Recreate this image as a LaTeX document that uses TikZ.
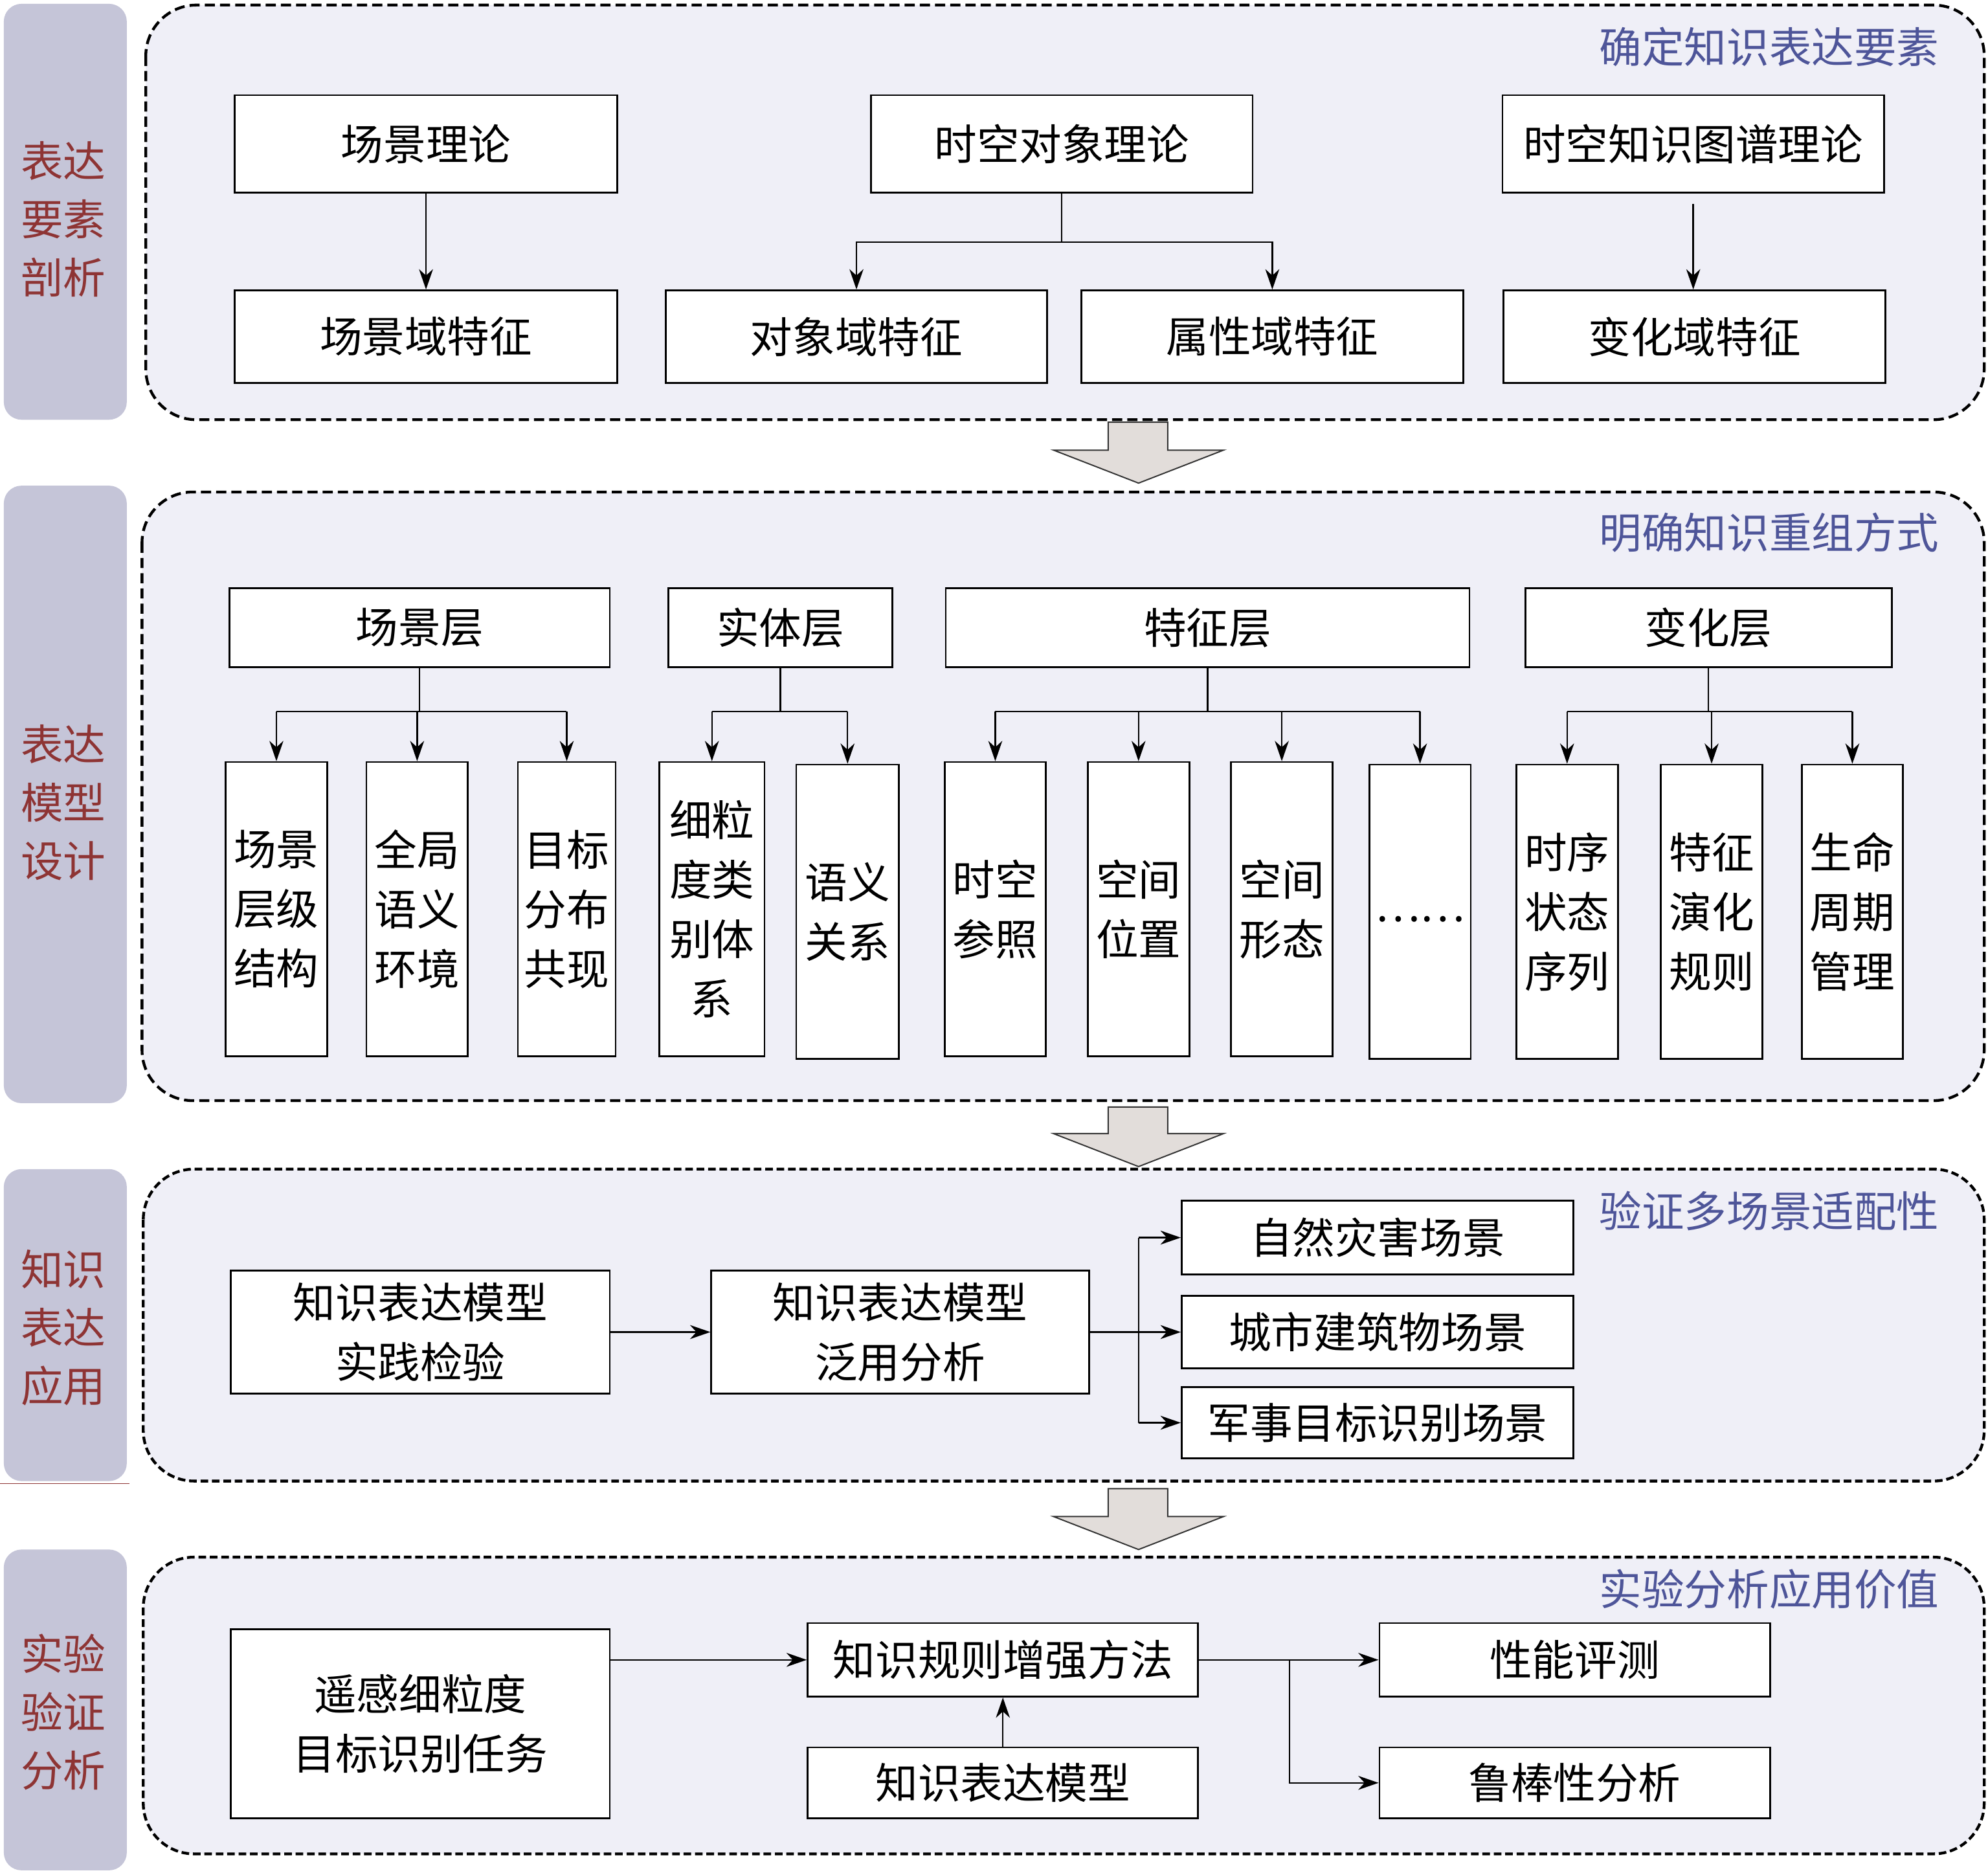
\documentclass[tikz,border=0pt]{standalone}
\usepackage{fontspec}
\setmainfont{Noto Sans CJK SC}
\usetikzlibrary{arrows.meta}
\definecolor{panelfill}{HTML}{EFEFF7}
\definecolor{barfill}{HTML}{C5C5D8}
\definecolor{sidetext}{HTML}{8E3434}
\definecolor{titleblue}{HTML}{4E5599}
\definecolor{bigarrow}{HTML}{E2DDDA}
\begin{document}
\begin{tikzpicture}[x=1pt,y=-1pt,
  box/.style={draw=black, line width=1.4pt, fill=white, inner sep=0pt,
    font=\fontsize{33.5}{47}\selectfont, align=center},
  arr/.style={-{Stealth[length=16pt,width=11pt,inset=5pt]}, line width=1.2pt},
  ln/.style={line width=1.2pt},
  panel/.style={draw=black, line width=2.2pt, dash pattern=on 8pt off 4pt,
    fill=panelfill, rounded corners=40pt},
  bar/.style={fill=barfill, rounded corners=14pt},
  sidelabel/.style={text=sidetext, font=\fontsize{33.5}{46}\selectfont, align=center},
  titletext/.style={text=titleblue, font=\fontsize{33.5}{40}\selectfont, anchor=east},
  blockarrow/.style={draw=black!80, line width=1pt, fill=bigarrow}
]
\useasboundingbox (0,0) rectangle (1568,1477);
\fill[white] (0,0) rectangle (1568,1477);

% side bars
\fill[bar] (3,3) rectangle (100,331);
\fill[bar] (3,383) rectangle (100,870);
\fill[bar] (3,922) rectangle (100,1168);
\fill[bar] (3,1222) rectangle (100,1475);
\node[sidelabel] (s1) at (50,173) {表达\\要素\\剖析};
\node[sidelabel] (s2) at (50,633) {表达\\模型\\设计};
\node[sidelabel] (s3) at (50,1047) {知识\\表达\\应用};
\node[sidelabel] (s4) at (50,1350) {实验\\验证\\分析};
\draw[sidetext, line width=0.8pt] (0,1170) -- (102,1170);

% panels
\draw[panel] (115,4) rectangle (1565,331);
\draw[panel] (112,388) rectangle (1565,868);
\draw[panel, dash pattern=on 6pt off 3pt] (113,922) rectangle (1565,1168);
\draw[panel, dash pattern=on 6pt off 3pt] (113,1228) rectangle (1565,1462);

% titles
\node[titletext] (t1) at (1533,37) {确定知识表达要素};
\node[titletext] (t2) at (1533,420) {明确知识重组方式};
\node[titletext] (t3) at (1533,955) {验证多场景适配性};
\node[titletext] (t4) at (1533,1253) {实验分析应用价值};

% block arrows
\draw[blockarrow] (874,333) -- (921,333) -- (921,355) -- (965,355) -- (898,381) -- (831,355) -- (874,355) -- cycle;
\draw[blockarrow] (874,873) -- (921,873) -- (921,894) -- (965,894) -- (898,920) -- (831,894) -- (874,894) -- cycle;
\draw[blockarrow] (874,1174) -- (921,1174) -- (921,1196) -- (965,1196) -- (898,1222) -- (831,1196) -- (874,1196) -- cycle;

% ---------- panel 1
\node[box, minimum width=302pt, minimum height=77pt] (a1) at (336,113.5) {场景理论};
\node[box, minimum width=301pt, minimum height=77pt] (a2) at (837.5,113.5) {时空对象理论};
\node[box, minimum width=301pt, minimum height=77pt] (a3) at (1335.5,113.5) {时空知识图谱理论};
\node[box, minimum width=302pt, minimum height=73pt] (b1) at (336,265.5) {场景域特征};
\node[box, minimum width=301pt, minimum height=73pt] (b2) at (675.5,265.5) {对象域特征};
\node[box, minimum width=301pt, minimum height=73pt] (b3) at (1003.5,265.5) {属性域特征};
\node[box, minimum width=301pt, minimum height=73pt] (b4) at (1336.5,265.5) {变化域特征};
\draw[arr] (a1) -- (b1);
\coordinate (j1) at (837.5,191);
\draw[ln] (a2.south) -- (j1);
\draw[arr] (j1) -| (b2.north);
\draw[arr] (j1) -| (b3.north);
\draw[arr] ([yshift=-8pt]a3.south) -- (a3.south |- b4.north);

% ---------- panel 2
\node[box, minimum width=300pt, minimum height=62pt] (c1) at (331,495) {场景层};
\node[box, minimum width=177pt, minimum height=62pt] (c2) at (615.5,495) {实体层};
\node[box, minimum width=413pt, minimum height=62pt] (c3) at (952.5,495) {特征层};
\node[box, minimum width=289pt, minimum height=62pt] (c4) at (1347.5,495) {变化层};

\node[box, minimum width=80pt, minimum height=232pt] (d1) at (218,717) {场景\\层级\\结构};
\node[box, minimum width=80pt, minimum height=232pt] (d2) at (329,717) {全局\\语义\\环境};
\node[box, minimum width=77pt, minimum height=232pt] (d3) at (447,717) {目标\\分布\\共现};
\node[box, minimum width=83pt, minimum height=232pt] (d4) at (561.5,717) {细粒\\度类\\别体\\系};
\node[box, minimum width=81pt, minimum height=232pt] (d5) at (668.5,719) {语义\\关系};
\node[box, minimum width=80pt, minimum height=232pt] (d6) at (785,717) {时空\\参照};
\node[box, minimum width=80pt, minimum height=232pt] (d7) at (898,717) {空间\\位置};
\node[box, minimum width=80pt, minimum height=232pt] (d8) at (1011,717) {空间\\形态};
\node[box, minimum width=80pt, minimum height=232pt, text depth=0pt] (d9) at (1120,719) {\raisebox{-8pt}{……}};
\node[box, minimum width=80pt, minimum height=232pt] (d10) at (1236,719) {时序\\状态\\序列};
\node[box, minimum width=80pt, minimum height=232pt] (d11) at (1350,719) {特征\\演化\\规则};
\node[box, minimum width=80pt, minimum height=232pt] (d12) at (1461,719) {生命\\周期\\管理};

\coordinate (k1) at (331,561);
\draw[ln] (c1.south) -- (k1);
\draw[ln] (d1.north |- k1) -- (d3.north |- k1);
\foreach \n in {d1,d2,d3} \draw[arr] (\n.north |- k1) -- (\n.north);
\coordinate (k2) at (615.5,561);
\draw[ln] (c2.south) -- (k2);
\draw[ln] (d4.north |- k2) -- (d5.north |- k2);
\foreach \n in {d4,d5} \draw[arr] (\n.north |- k2) -- (\n.north);
\coordinate (k3) at (952.5,561);
\draw[ln] (c3.south) -- (k3);
\draw[ln] (d6.north |- k3) -- (d9.north |- k3);
\foreach \n in {d6,d7,d8,d9} \draw[arr] (\n.north |- k3) -- (\n.north);
\coordinate (k4) at (1347.5,561);
\draw[ln] (c4.south) -- (k4);
\draw[ln] (d10.north |- k4) -- (d12.north |- k4);
\foreach \n in {d10,d11,d12} \draw[arr] (\n.north |- k4) -- (\n.north);

% ---------- panel 3
\node[box, minimum width=299pt, minimum height=97pt] (e1) at (331.5,1050.5) {知识表达模型\\实践检验};
\node[box, minimum width=298pt, minimum height=97pt] (e2) at (710,1050.5) {知识表达模型\\泛用分析};
\node[box, minimum width=309pt, minimum height=58pt] (f1) at (1086.5,976) {自然灾害场景};
\node[box, minimum width=309pt, minimum height=57pt] (f2) at (1086.5,1050.5) {城市建筑物场景};
\node[box, minimum width=309pt, minimum height=56pt] (f3) at (1086.5,1122) {军事目标识别场景};
\draw[arr] (e1) -- (e2);
\coordinate (m1) at (898,1050.5);
\draw[ln] (e2.east) -- (m1);
\draw[ln] (m1 |- f1) -- (m1 |- f3);
\foreach \n in {f1,f2,f3} \draw[arr] (m1 |- \n) -- (\n.west);

% ---------- panel 4
\node[box, minimum width=299pt, minimum height=149pt] (g1) at (331.5,1359.5) {遥感细粒度\\目标识别任务};
\node[box, minimum width=308pt, minimum height=58pt] (g2) at (791,1309) {知识规则增强方法};
\node[box, minimum width=308pt, minimum height=56pt] (g3) at (791,1406) {知识表达模型};
\node[box, minimum width=308pt, minimum height=58pt] (g4) at (1242,1309) {性能评测};
\node[box, minimum width=308pt, minimum height=56pt] (g5) at (1242,1406) {鲁棒性分析};
\draw[arr] (g1.east |- g2) -- (g2.west);
\draw[arr] (g3) -- (g2);
\draw[arr] (g2) -- (g4);
\coordinate (n1) at (1017,1309);
\draw[arr] (n1) |- (g5.west);
\end{tikzpicture}
\end{document}
